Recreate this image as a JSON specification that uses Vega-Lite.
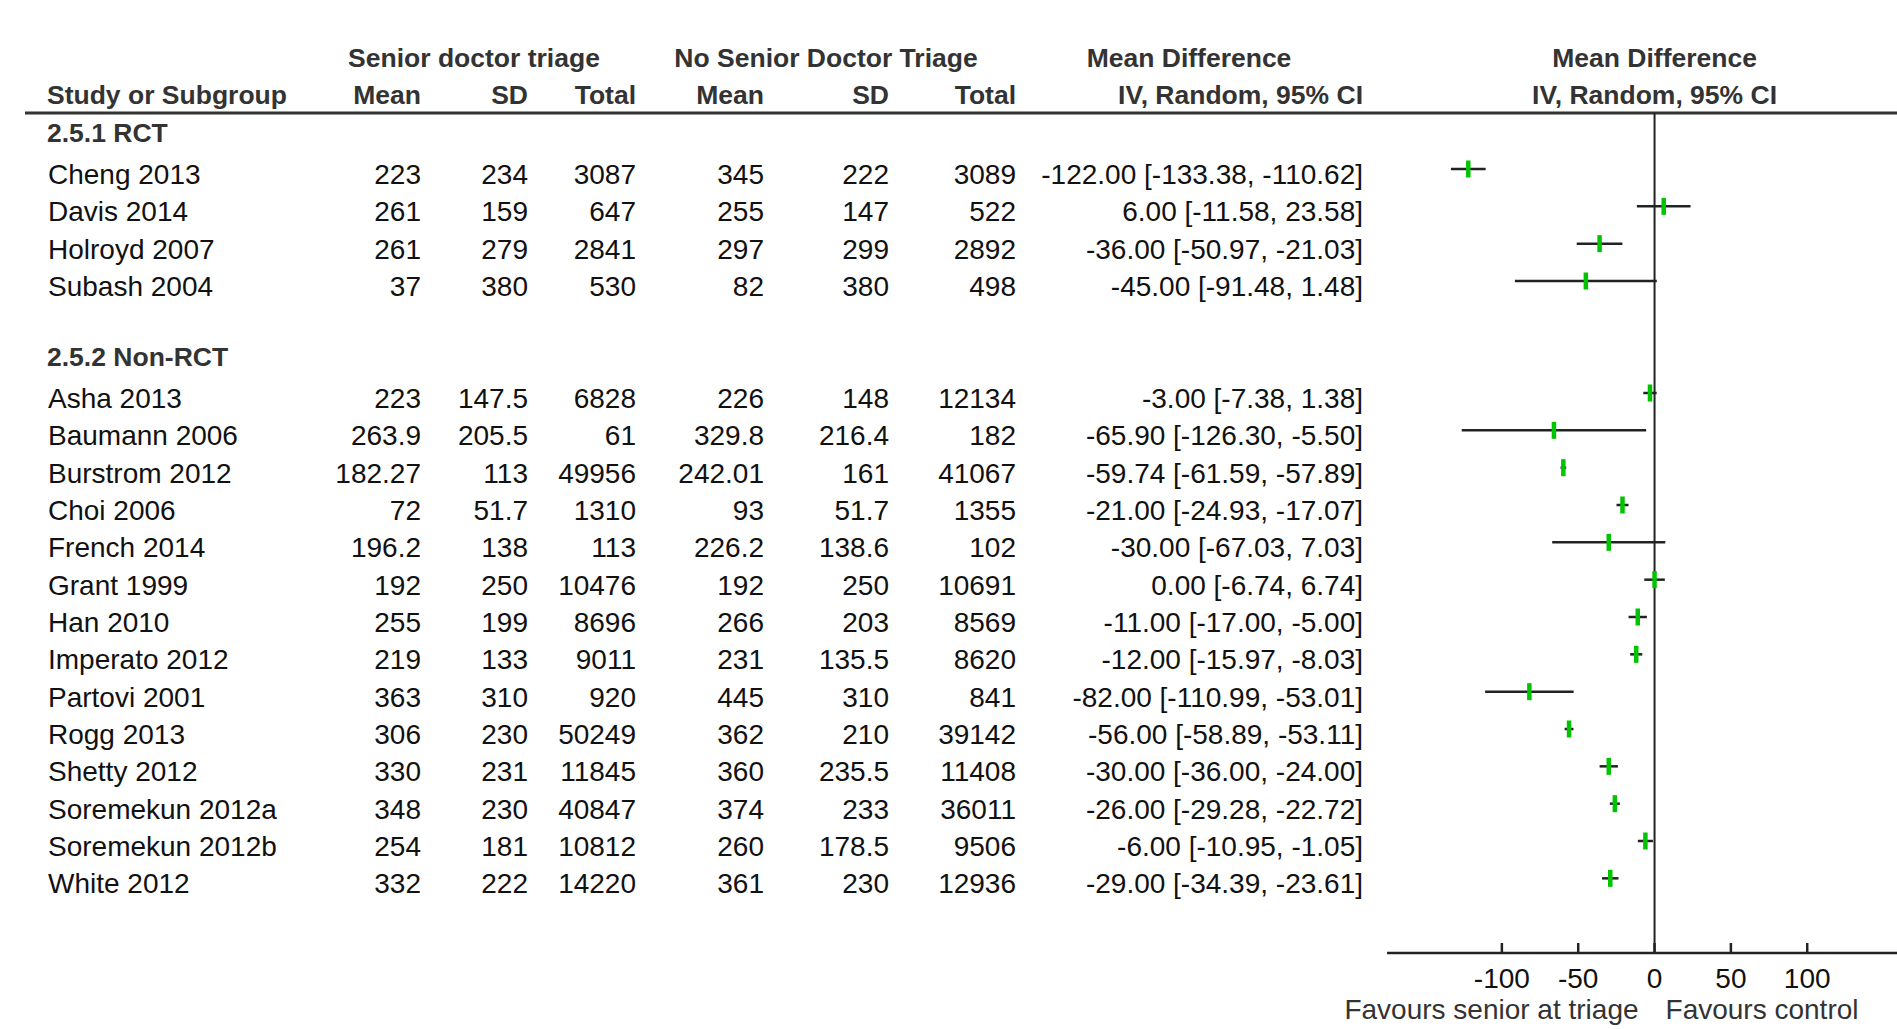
{
  "$schema": "https://vega.github.io/schema/vega-lite/v6.json",
  "width": 1897,
  "height": 1029,
  "autosize": {"type": "none"},
  "padding": 0,
  "background": "white",
  "config": {"view": {"stroke": null}, "axis": {"disable": true}, "text": {"font": "Liberation Sans"}},
  "datasets": {
    "studies": [
      {"study": "Cheng 2013", "m1": 223, "sd1": 234, "n1": 3087, "m2": 345, "sd2": 222, "n2": 3089, "md": -122.00, "lo": -133.38, "hi": -110.62, "ci": "-122.00 [-133.38, -110.62]"},
      {"study": "Davis 2014", "m1": 261, "sd1": 159, "n1": 647, "m2": 255, "sd2": 147, "n2": 522, "md": 6.00, "lo": -11.58, "hi": 23.58, "ci": "6.00 [-11.58, 23.58]"},
      {"study": "Holroyd 2007", "m1": 261, "sd1": 279, "n1": 2841, "m2": 297, "sd2": 299, "n2": 2892, "md": -36.00, "lo": -50.97, "hi": -21.03, "ci": "-36.00 [-50.97, -21.03]"},
      {"study": "Subash 2004", "m1": 37, "sd1": 380, "n1": 530, "m2": 82, "sd2": 380, "n2": 498, "md": -45.00, "lo": -91.48, "hi": 1.48, "ci": "-45.00 [-91.48, 1.48]"},
      {"study": "Asha 2013", "m1": 223, "sd1": 147.5, "n1": 6828, "m2": 226, "sd2": 148, "n2": 12134, "md": -3.00, "lo": -7.38, "hi": 1.38, "ci": "-3.00 [-7.38, 1.38]"},
      {"study": "Baumann 2006", "m1": 263.9, "sd1": 205.5, "n1": 61, "m2": 329.8, "sd2": 216.4, "n2": 182, "md": -65.90, "lo": -126.30, "hi": -5.50, "ci": "-65.90 [-126.30, -5.50]"},
      {"study": "Burstrom 2012", "m1": 182.27, "sd1": 113, "n1": 49956, "m2": 242.01, "sd2": 161, "n2": 41067, "md": -59.74, "lo": -61.59, "hi": -57.89, "ci": "-59.74 [-61.59, -57.89]"},
      {"study": "Choi 2006", "m1": 72, "sd1": 51.7, "n1": 1310, "m2": 93, "sd2": 51.7, "n2": 1355, "md": -21.00, "lo": -24.93, "hi": -17.07, "ci": "-21.00 [-24.93, -17.07]"},
      {"study": "French 2014", "m1": 196.2, "sd1": 138, "n1": 113, "m2": 226.2, "sd2": 138.6, "n2": 102, "md": -30.00, "lo": -67.03, "hi": 7.03, "ci": "-30.00 [-67.03, 7.03]"},
      {"study": "Grant 1999", "m1": 192, "sd1": 250, "n1": 10476, "m2": 192, "sd2": 250, "n2": 10691, "md": 0.00, "lo": -6.74, "hi": 6.74, "ci": "0.00 [-6.74, 6.74]"},
      {"study": "Han 2010", "m1": 255, "sd1": 199, "n1": 8696, "m2": 266, "sd2": 203, "n2": 8569, "md": -11.00, "lo": -17.00, "hi": -5.00, "ci": "-11.00 [-17.00, -5.00]"},
      {"study": "Imperato 2012", "m1": 219, "sd1": 133, "n1": 9011, "m2": 231, "sd2": 135.5, "n2": 8620, "md": -12.00, "lo": -15.97, "hi": -8.03, "ci": "-12.00 [-15.97, -8.03]"},
      {"study": "Partovi 2001", "m1": 363, "sd1": 310, "n1": 920, "m2": 445, "sd2": 310, "n2": 841, "md": -82.00, "lo": -110.99, "hi": -53.01, "ci": "-82.00 [-110.99, -53.01]"},
      {"study": "Rogg 2013", "m1": 306, "sd1": 230, "n1": 50249, "m2": 362, "sd2": 210, "n2": 39142, "md": -56.00, "lo": -58.89, "hi": -53.11, "ci": "-56.00 [-58.89, -53.11]"},
      {"study": "Shetty 2012", "m1": 330, "sd1": 231, "n1": 11845, "m2": 360, "sd2": 235.5, "n2": 11408, "md": -30.00, "lo": -36.00, "hi": -24.00, "ci": "-30.00 [-36.00, -24.00]"},
      {"study": "Soremekun 2012a", "m1": 348, "sd1": 230, "n1": 40847, "m2": 374, "sd2": 233, "n2": 36011, "md": -26.00, "lo": -29.28, "hi": -22.72, "ci": "-26.00 [-29.28, -22.72]"},
      {"study": "Soremekun 2012b", "m1": 254, "sd1": 181, "n1": 10812, "m2": 260, "sd2": 178.5, "n2": 9506, "md": -6.00, "lo": -10.95, "hi": -1.05, "ci": "-6.00 [-10.95, -1.05]"},
      {"study": "White 2012", "m1": 332, "sd1": 222, "n1": 14220, "m2": 361, "sd2": 230, "n2": 12936, "md": -29.00, "lo": -34.39, "hi": -23.61, "ci": "-29.00 [-34.39, -23.61]"}
    ],
    "sections": [{"label": "2.5.1 RCT"}, {"label": "2.5.2 Non-RCT"}],
    "ticks": [{"v": -100}, {"v": -50}, {"v": 0}, {"v": 50}, {"v": 100}]
  },
  "layer": [
    {
      "data": {"values": [{}]},
      "mark": {"type": "rule", "color": "#333", "strokeWidth": 3, "yOffset": 18.7},
      "encoding": {
        "x": {"value": 25}, "x2": {"value": 1897},
        "y": {"datum": "h2", "type": "nominal", "axis": null, "scale": {"type": "point", "domain": ["h1","h2","2.5.1 RCT","Cheng 2013","Davis 2014","Holroyd 2007","Subash 2004","gap1","2.5.2 Non-RCT","Asha 2013","Baumann 2006","Burstrom 2012","Choi 2006","French 2014","Grant 1999","Han 2010","Imperato 2012","Partovi 2001","Rogg 2013","Shetty 2012","Soremekun 2012a","Soremekun 2012b","White 2012","gap2","axis"], "range": [57, 953], "padding": 0}}
      }
    },
    {
      "data": {"values": [{}]},
      "mark": {"type": "rule", "color": "#222", "strokeWidth": 2, "yOffset": 18.7},
      "encoding": {
        "x": {"datum": 0, "type": "quantitative", "scale": {"domain": [-1083.7, 158.8], "nice": false, "zero": false}, "axis": null},
        "y": {"datum": "h2", "type": "nominal", "axis": null},
        "y2": {"datum": "axis"}
      }
    },
    {
      "data": {"values": [{}]},
      "mark": {"type": "rule", "color": "#222", "strokeWidth": 2.5},
      "encoding": {
        "x": {"datum": -175.2, "type": "quantitative"},
        "x2": {"datum": 158.8},
        "y": {"datum": "axis", "type": "nominal"}
      }
    },
    {
      "data": {"name": "ticks"},
      "mark": {"type": "rule", "color": "#222", "strokeWidth": 2.5, "yOffset": -10},
      "encoding": {
        "x": {"field": "v", "type": "quantitative"},
        "y": {"datum": "axis", "type": "nominal"},
        "y2": {"datum": "axis"}
      }
    },
    {
      "data": {"name": "ticks"},
      "mark": {"type": "text", "fontSize": 28, "color": "#111", "align": "center", "baseline": "middle", "dy": 27},
      "encoding": {
        "x": {"field": "v", "type": "quantitative"},
        "y": {"datum": "axis", "type": "nominal"},
        "text": {"field": "v", "type": "nominal"}
      }
    },
    {
      "data": {"values": [{"t": "Favours senior at triage"}]},
      "mark": {"type": "text", "fontSize": 28, "color": "#333", "align": "right", "baseline": "middle", "dy": 58, "dx": -16},
      "encoding": {
        "x": {"datum": 0, "type": "quantitative"},
        "y": {"datum": "axis", "type": "nominal"},
        "text": {"field": "t"}
      }
    },
    {
      "data": {"values": [{"t": "Favours control"}]},
      "mark": {"type": "text", "fontSize": 28, "color": "#333", "align": "left", "baseline": "middle", "dy": 58, "dx": 11},
      "encoding": {
        "x": {"datum": 0, "type": "quantitative"},
        "y": {"datum": "axis", "type": "nominal"},
        "text": {"field": "t"}
      }
    },
    {
      "data": {"values": [{"t": "Mean Difference", "r": "h1"}, {"t": "IV, Random, 95% CI", "r": "h2"}]},
      "mark": {"type": "text", "fontSize": 26.5, "fontWeight": "bold", "color": "#333", "align": "center", "baseline": "middle", "dy": 2},
      "encoding": {
        "x": {"datum": 0, "type": "quantitative"},
        "y": {"field": "r", "type": "nominal"},
        "text": {"field": "t"}
      }
    },
    {
      "data": {"name": "studies"},
      "mark": {"type": "rule", "color": "#222", "strokeWidth": 2.5},
      "encoding": {
        "x": {"field": "lo", "type": "quantitative"},
        "x2": {"field": "hi"},
        "y": {"field": "study", "type": "nominal"}
      }
    },
    {
      "data": {"name": "studies"},
      "mark": {"type": "tick", "orient": "vertical", "color": "#00c400", "size": 17, "thickness": 4.5, "opacity": 1},
      "encoding": {
        "x": {"field": "md", "type": "quantitative"},
        "y": {"field": "study", "type": "nominal"}
      }
    },
    {
      "data": {"values": [{"t": "Senior doctor triage"}]},
      "mark": {"type": "text", "fontSize": 26.5, "fontWeight": "bold", "color": "#333", "align": "center", "baseline": "middle", "dy": 2},
      "encoding": {"x": {"value": 474}, "y": {"datum": "h1", "type": "nominal"}, "text": {"field": "t"}}
    },
    {
      "data": {"values": [{"t": "No Senior Doctor Triage"}]},
      "mark": {"type": "text", "fontSize": 26.5, "fontWeight": "bold", "color": "#333", "align": "center", "baseline": "middle", "dy": 2},
      "encoding": {"x": {"value": 826}, "y": {"datum": "h1", "type": "nominal"}, "text": {"field": "t"}}
    },
    {
      "data": {"values": [{"t": "Mean Difference"}]},
      "mark": {"type": "text", "fontSize": 26.5, "fontWeight": "bold", "color": "#333", "align": "center", "baseline": "middle", "dy": 2},
      "encoding": {"x": {"value": 1189}, "y": {"datum": "h1", "type": "nominal"}, "text": {"field": "t"}}
    },
    {
      "data": {"values": [{"t": "Study or Subgroup"}]},
      "mark": {"type": "text", "fontSize": 26.5, "fontWeight": "bold", "color": "#333", "align": "left", "baseline": "middle", "dy": 2},
      "encoding": {"x": {"value": 47}, "y": {"datum": "h2", "type": "nominal"}, "text": {"field": "t"}}
    },
    {
      "data": {"values": [{"t": "Mean"}]},
      "mark": {"type": "text", "fontSize": 26.5, "fontWeight": "bold", "color": "#333", "align": "right", "baseline": "middle", "dy": 2},
      "encoding": {"x": {"value": 421}, "y": {"datum": "h2", "type": "nominal"}, "text": {"field": "t"}}
    },
    {
      "data": {"values": [{"t": "SD"}]},
      "mark": {"type": "text", "fontSize": 26.5, "fontWeight": "bold", "color": "#333", "align": "right", "baseline": "middle", "dy": 2},
      "encoding": {"x": {"value": 528}, "y": {"datum": "h2", "type": "nominal"}, "text": {"field": "t"}}
    },
    {
      "data": {"values": [{"t": "Total"}]},
      "mark": {"type": "text", "fontSize": 26.5, "fontWeight": "bold", "color": "#333", "align": "right", "baseline": "middle", "dy": 2},
      "encoding": {"x": {"value": 636}, "y": {"datum": "h2", "type": "nominal"}, "text": {"field": "t"}}
    },
    {
      "data": {"values": [{"t": "Mean"}]},
      "mark": {"type": "text", "fontSize": 26.5, "fontWeight": "bold", "color": "#333", "align": "right", "baseline": "middle", "dy": 2},
      "encoding": {"x": {"value": 764}, "y": {"datum": "h2", "type": "nominal"}, "text": {"field": "t"}}
    },
    {
      "data": {"values": [{"t": "SD"}]},
      "mark": {"type": "text", "fontSize": 26.5, "fontWeight": "bold", "color": "#333", "align": "right", "baseline": "middle", "dy": 2},
      "encoding": {"x": {"value": 889}, "y": {"datum": "h2", "type": "nominal"}, "text": {"field": "t"}}
    },
    {
      "data": {"values": [{"t": "Total"}]},
      "mark": {"type": "text", "fontSize": 26.5, "fontWeight": "bold", "color": "#333", "align": "right", "baseline": "middle", "dy": 2},
      "encoding": {"x": {"value": 1016}, "y": {"datum": "h2", "type": "nominal"}, "text": {"field": "t"}}
    },
    {
      "data": {"values": [{"t": "IV, Random, 95% CI"}]},
      "mark": {"type": "text", "fontSize": 26.5, "fontWeight": "bold", "color": "#333", "align": "right", "baseline": "middle", "dy": 2},
      "encoding": {"x": {"value": 1363}, "y": {"datum": "h2", "type": "nominal"}, "text": {"field": "t"}}
    },
    {
      "data": {"name": "sections"},
      "mark": {"type": "text", "fontSize": 26.5, "fontWeight": "bold", "color": "#333", "align": "left", "baseline": "middle", "dy": 2},
      "encoding": {"x": {"value": 47}, "y": {"field": "label", "type": "nominal"}, "text": {"field": "label"}}
    },
    {
      "data": {"name": "studies"},
      "mark": {"type": "text", "fontSize": 28, "color": "#111", "align": "left", "baseline": "middle", "dy": 7},
      "encoding": {"x": {"value": 48}, "y": {"field": "study", "type": "nominal"}, "text": {"field": "study"}}
    },
    {
      "data": {"name": "studies"},
      "mark": {"type": "text", "fontSize": 28, "color": "#111", "align": "right", "baseline": "middle", "dy": 7},
      "encoding": {"x": {"value": 421}, "y": {"field": "study", "type": "nominal"}, "text": {"field": "m1", "type": "nominal"}}
    },
    {
      "data": {"name": "studies"},
      "mark": {"type": "text", "fontSize": 28, "color": "#111", "align": "right", "baseline": "middle", "dy": 7},
      "encoding": {"x": {"value": 528}, "y": {"field": "study", "type": "nominal"}, "text": {"field": "sd1", "type": "nominal"}}
    },
    {
      "data": {"name": "studies"},
      "mark": {"type": "text", "fontSize": 28, "color": "#111", "align": "right", "baseline": "middle", "dy": 7},
      "encoding": {"x": {"value": 636}, "y": {"field": "study", "type": "nominal"}, "text": {"field": "n1", "type": "nominal"}}
    },
    {
      "data": {"name": "studies"},
      "mark": {"type": "text", "fontSize": 28, "color": "#111", "align": "right", "baseline": "middle", "dy": 7},
      "encoding": {"x": {"value": 764}, "y": {"field": "study", "type": "nominal"}, "text": {"field": "m2", "type": "nominal"}}
    },
    {
      "data": {"name": "studies"},
      "mark": {"type": "text", "fontSize": 28, "color": "#111", "align": "right", "baseline": "middle", "dy": 7},
      "encoding": {"x": {"value": 889}, "y": {"field": "study", "type": "nominal"}, "text": {"field": "sd2", "type": "nominal"}}
    },
    {
      "data": {"name": "studies"},
      "mark": {"type": "text", "fontSize": 28, "color": "#111", "align": "right", "baseline": "middle", "dy": 7},
      "encoding": {"x": {"value": 1016}, "y": {"field": "study", "type": "nominal"}, "text": {"field": "n2", "type": "nominal"}}
    },
    {
      "data": {"name": "studies"},
      "mark": {"type": "text", "fontSize": 28, "color": "#111", "align": "right", "baseline": "middle", "dy": 7},
      "encoding": {"x": {"value": 1363}, "y": {"field": "study", "type": "nominal"}, "text": {"field": "ci"}}
    }
  ]
}
